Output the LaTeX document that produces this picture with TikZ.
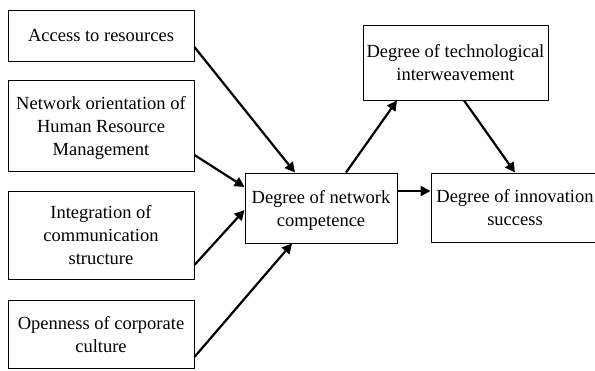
\documentclass[tikz,border=0pt]{standalone}
\usepackage{fontspec}
\setmainfont{Liberation Serif}
\usetikzlibrary{arrows.meta}
\begin{document}
\begin{tikzpicture}[x=1pt,y=1pt,
  box/.style={draw,line width=0.9pt,inner sep=0pt,align=center,
    font=\fontsize{18.5}{23}\selectfont,text depth=0pt},
  arr/.style={line width=2.2pt,-{Triangle[length=10pt,width=10pt]}}]
\useasboundingbox (0,0) rectangle (595,-370);
\clip (0,0) rectangle (595,-370);
\node[box,minimum width=186pt,minimum height=51pt] (A) at (101,-35.5) {Access to resources};
\node[box,minimum width=186pt,minimum height=91pt] (N) at (101,-125.5) {Network orientation of\\Human Resource\\Management};
\node[box,minimum width=186pt,minimum height=88pt] (I) at (101,-235) {Integration of\\communication\\structure};
\node[box,minimum width=186pt,minimum height=68pt] (O) at (101,-334) {Openness of corporate\\culture};
\node[box,minimum width=152pt,minimum height=70pt] (C) at (321,-208) {Degree of network\\competence};
\node[box,minimum width=185pt,minimum height=75pt] (T) at (455.5,-62.5) {Degree of technological\\interweavement};
\node[box,minimum width=168pt,minimum height=69pt] (S) at (515,-207.5) {Degree of innovation\\success};
\draw[arr] ([yshift=-11.5pt]A.east) -- ([xshift=-26pt]C.north);
\draw[arr] ([yshift=-29.5pt]N.east) -- ([yshift=21pt]C.west);
\draw[arr] ([yshift=-30pt]I.east) -- ([yshift=-2pt]C.west);
\draw[arr] ([yshift=-23pt]O.east) -- ([xshift=-29pt]C.south);
\draw[arr] ([xshift=25pt]C.north) -- ([xshift=-58.5pt]T.south);
\draw[arr] ([xshift=8.5pt]T.south) -- (S.north);
\draw[arr] ([yshift=17pt]C.east) -- ([yshift=16.5pt]S.west);
\end{tikzpicture}
\end{document}
